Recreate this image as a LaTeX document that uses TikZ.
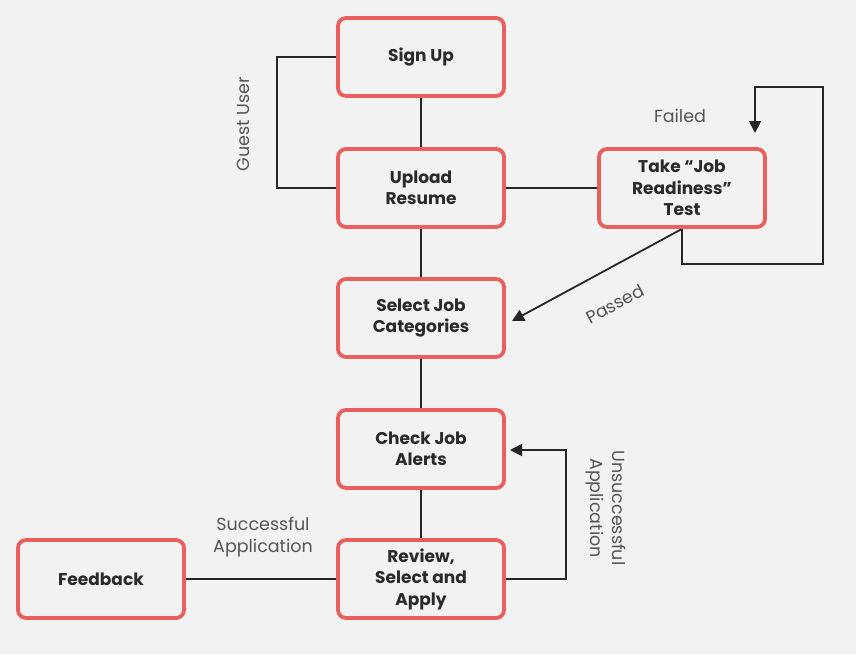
\documentclass[tikz,border=0pt]{standalone}
\usepackage{fontspec}
\setmainfont{Poppins}
\usetikzlibrary{arrows.meta}
\definecolor{bg}{HTML}{F2F2F2}
\definecolor{boxred}{HTML}{EB5E5E}
\definecolor{txt}{HTML}{2A2A2A}
\definecolor{lbl}{HTML}{555555}
\pgfdeclarelayer{bgfill}
\pgfdeclarelayer{lines}
\pgfsetlayers{bgfill,lines,main}
\begin{document}
\begin{tikzpicture}[x=1pt,y=-1pt,
  stepbox/.style={draw=boxred,line width=3.8pt,rounded corners=8pt,fill=bg,
    minimum width=166pt,minimum height=78pt,align=center,text=txt,
    font=\bfseries\fontsize{17}{21.5}\selectfont},
  conn/.style={draw=black!85,line width=1.8pt},
  arr/.style={conn,-{Triangle[length=12pt,width=12pt]}},
  lab/.style={text=lbl,font=\fontsize{17.5}{22.5}\selectfont,align=center}]
\begin{pgfonlayer}{bgfill}
\fill[bg] (0,0) rectangle (856,654);
\end{pgfonlayer}
\useasboundingbox (0,0) rectangle (856,654);
% nodes
\node[stepbox] (signup) at (421,57) {Sign Up};
\node[stepbox] (upload) at (421,188) {Upload\\Resume};
\node[stepbox] (test) at (682,188) {Take “Job\\Readiness”\\Test};
\node[stepbox] (select) at (421,318) {Select Job\\Categories};
\node[stepbox] (check) at (421,449) {Check Job\\Alerts};
\node[stepbox] (review) at (421,579) {Review,\\Select and\\Apply};
\node[stepbox] (feedback) at (101,579) {Feedback};
% coordinates
\coordinate (failtip) at (755,133);
\coordinate (passtip) at (512,321);
\coordinate (unsucctip) at (510,450);
% connectors
\begin{pgfonlayer}{lines}
\draw[conn] (signup.south) -- (upload.north);
\draw[conn] (upload.south) -- (select.north);
\draw[conn] (select.south) -- (check.north);
\draw[conn] (check.south) -- (review.north);
\draw[conn] (upload.east) -- (test.west);
\draw[conn] (feedback.east) -- (review.west);
\draw[conn] (signup.west) -- ++(-59,0) |- (upload.west);
\draw[arr] (test.south) -- (passtip);
\draw[arr] (test.south) -- ++(0,35) -| (823,87) -| (failtip);
\draw[arr] (review.east) -- ++(60,0) |- (unsucctip);
\end{pgfonlayer}
% labels
\node[lab,rotate=90] (guest) at (243,124) {Guest User};
\node[lab] (failed) at (680,116) {Failed};
\node[lab,rotate=28] (passed) at (615,304) {Passed};
\node[lab,rotate=-90] (unsucc) at (606,508) {Unsuccessful\\Application};
\node[lab] (succ) at (263,537) {Successful\\Application};
\end{tikzpicture}
\end{document}
